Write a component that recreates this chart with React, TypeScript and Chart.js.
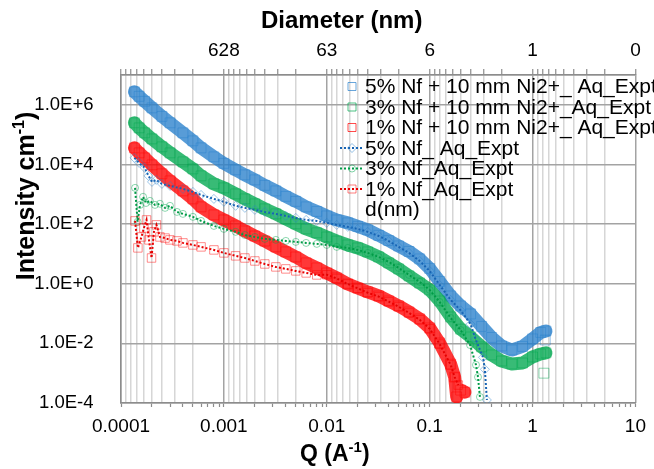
import { useEffect, useRef } from 'react';
import { Chart, registerables } from 'chart.js';

Chart.register(...registerables);

const FONT = '"Liberation Sans", Arial, Helvetica, sans-serif';

// ---------------- data (Q in A^-1, intensity in cm^-1) ----------------
const qNi = [1.35e-4, 1.5e-4, 1.7e-4, 2e-4, 2.5e-4, 3e-4, 4e-4, 5e-4, 6e-4, 8e-4, 1e-3, 1.3e-3, 1.6e-3, 2e-3, 2.5e-3, 3.2e-3, 4e-3, 5e-3, 6.3e-3, 8e-3, 0.01, 0.0125, 0.016, 0.02, 0.025, 0.032, 0.04, 0.05, 0.063, 0.08, 0.1, 0.125, 0.16, 0.2, 0.25, 0.32, 0.4, 0.5, 0.63, 0.8, 1.0, 1.2, 1.35];

const iBlueNi = [2.73e6, 1.93e6, 1.31e6, 7.9e5, 4.1e5, 2.49e5, 1.15e5, 6.2e4, 3.6e4, 1.8e4, 1.09e4, 6.6e3, 4.48e3, 3.04e3, 1.99e3, 1.3e3, 8.5e2, 5.8e2, 3.78e2, 2.67e2, 1.88e2, 1.38e2, 1.1e2, 84, 64, 42, 28, 18.5, 12.1, 6.8, 3.26, 1.19, 0.39, 0.18, 0.097, 0.037, 0.0158, 0.0082, 0.006, 0.0079, 0.0141, 0.0232, 0.026];
const qBlueNiTail = [1.33];
const iBlueNiTail = [0.013];

const iGreenNi = [2.49e5, 1.69e5, 1.15e5, 7.2e4, 3.9e4, 2.45e4, 1.22e4, 7.1e3, 4.14e3, 2.23e3, 1.64e3, 1.03e3, 7.0e2, 4.76e2, 3.24e2, 2.2e2, 1.49e2, 1.02e2, 69, 51, 37, 27, 20, 15.9, 11.7, 7.9, 5.0, 3.14, 1.83, 1.06, 0.62, 0.265, 0.077, 0.03, 0.0164, 0.0076, 0.0041, 0.00256, 0.00204, 0.0022, 0.0035, 0.0044, 0.0048];
const qGreenNiTail = [1.29];
const iGreenNiTail = [0.001];

const qRedNi = [1.35e-4, 1.5e-4, 1.7e-4, 2e-4, 2.5e-4, 3e-4, 4e-4, 5e-4, 6e-4, 8e-4, 1e-3, 1.3e-3, 1.6e-3, 2e-3, 2.5e-3, 3.2e-3, 4e-3, 5e-3, 6.3e-3, 8e-3, 0.01, 0.0125, 0.016, 0.02, 0.025, 0.032, 0.04, 0.05, 0.063, 0.08, 0.1, 0.125, 0.16, 0.175, 0.183, 0.2, 0.22];
const iRedNi = [3.6e4, 2.45e4, 1.66e4, 9.7e3, 4.84e3, 2.82e3, 1.3e3, 7.0e2, 3.78e2, 2.04e2, 1.38e2, 87, 59, 40, 27, 17.2, 11.7, 7.9, 5.0, 3.39, 2.3, 1.57, 0.98, 0.72, 0.53, 0.39, 0.265, 0.18, 0.113, 0.066, 0.033, 0.0103, 0.002, 7.4e-4, 1.6e-4, 2.7e-4, 2.3e-4];

const qBlueAq = [1.35e-4, 1.5e-4, 1.7e-4, 1.85e-4, 2e-4, 2.2e-4, 2.5e-4, 3e-4, 4e-4, 5e-4, 6e-4, 8e-4, 1e-3, 1.3e-3, 1.6e-3, 2e-3, 2.5e-3, 3.2e-3, 4e-3, 5e-3, 6.3e-3, 8e-3, 0.01, 0.0125, 0.016, 0.02, 0.025, 0.032, 0.04, 0.05, 0.063, 0.08, 0.1, 0.125, 0.16, 0.2, 0.25, 0.28, 0.33, 0.344, 0.36];
const iBlueAq = [1.66e4, 1.13e4, 7.7e3, 4.14e3, 2.6e3, 3.04e3, 2.23e3, 1.91e3, 1.52e3, 1.2e3, 9.5e2, 7.0e2, 5.6e2, 4.1e2, 3.5e2, 3.0e2, 2.56e2, 2.2e2, 1.88e2, 1.61e2, 1.38e2, 1.28e2, 1.1e2, 94, 81, 69, 55, 40, 27, 17.2, 10.8, 5.8, 2.7, 0.91, 0.286, 0.128, 0.044, 0.0137, 0.0034, 0.00135, 1.26e-4];

const qGreenAq = [1.37e-4, 1.45e-4, 1.53e-4, 1.64e-4, 1.75e-4, 1.91e-4, 2.14e-4, 2.39e-4, 2.68e-4, 2.99e-4, 3.5e-4, 4e-4, 5e-4, 6e-4, 8e-4, 1e-3, 1.3e-3, 1.6e-3, 2e-3, 2.5e-3, 3.2e-3, 4e-3, 5e-3, 6.3e-3, 8e-3, 0.01, 0.0125, 0.016, 0.02, 0.025, 0.032, 0.04, 0.05, 0.063, 0.08, 0.1, 0.125, 0.16, 0.2, 0.247, 0.282, 0.295, 0.308];
const iGreenAq = [1.64e3, 1.19e2, 4.4e2, 8.2e2, 5.1e2, 6.0e2, 4.4e2, 4.8e2, 3.5e2, 4.1e2, 2.56e2, 2.2e2, 1.75e2, 1.28e2, 87, 69, 55, 43, 37, 32, 29.5, 27.3, 25.3, 23.4, 21.7, 20, 17.2, 15.9, 13.6, 10.8, 7.9, 5.4, 3.4, 1.97, 1.15, 0.62, 0.245, 0.071, 0.028, 0.0088, 0.0019, 7.4e-4, 1.6e-4];

const qRedAq = [1.37e-4, 1.46e-4, 1.58e-4, 1.67e-4, 1.77e-4, 1.87e-4, 1.98e-4, 2.09e-4, 2.21e-4, 2.39e-4, 2.68e-4, 2.99e-4, 3.5e-4, 4e-4, 5e-4, 6e-4, 8e-4, 1e-3, 1.3e-3, 1.6e-3, 2e-3, 2.5e-3, 3.2e-3, 4e-3, 5e-3, 6.3e-3, 8e-3, 0.01, 0.0125, 0.016, 0.02, 0.025, 0.032, 0.04, 0.05, 0.063, 0.08, 0.1, 0.125, 0.16, 0.175, 0.19];
const iRedAq = [128, 15.9, 37, 74, 138, 29.5, 7.3, 55, 94, 37, 34, 29.5, 27.3, 23.4, 20, 17.2, 13.6, 10.8, 8.6, 7.3, 5.8, 4.6, 3.66, 3.14, 2.69, 2.3, 1.97, 2.0, 1.5, 0.98, 0.7, 0.5, 0.37, 0.25, 0.17, 0.105, 0.062, 0.031, 0.0095, 0.0019, 7.4e-4, 4.0e-4];

const seriesLabels = [
  '5% Nf + 10 mm Ni2+_ Aq_Expt',
  '3% Nf + 10 mm Ni2+_Aq_Expt',
  '1% Nf + 10 mm Ni2+_ Aq_Expt',
  '5% Nf_ Aq_Expt',
  '3% Nf_Aq_Expt',
  '1% Nf_Aq_Expt',
  'd(nm)',
];

const yTickValues = [1e-4, 1e-2, 1, 1e2, 1e4, 1e6, 1e7];
const qDecades = [1e-4, 1e-3, 1e-2, 1e-1, 1, 10];
const qTickLabels = ['0.0001', '0.001', '0.01', '0.1', '1', '10'];
const diameterTickLabels = ['', '628', '63', '6', '1', '0'];

// ---------------- styling ----------------
const BLUE = '41,128,204';
const GREEN = '0,168,80';
const RED = '255,0,0';
const BLUE_DOT = '#1763b3';
const GREEN_DOT = '#009a46';
const RED_DOT = '#e60000';

const toXY = (q: number[], v: number[]) => q.map((x, k) => ({ x, y: v[k] }));

const decadeIndex = (v: number) => {
  const e = Math.log10(v);
  const r = Math.round(e);
  return Math.abs(e - r) < 1e-6 ? r + 4 : -1;
};

const fmtExp = (v: number) => {
  const e = Math.round(Math.log10(v));
  return `1.0E${e >= 0 ? '+' : '-'}${Math.abs(e)}`;
};

function niDataset(label: string, rgb: string, q: number[], v: number[], order: number, band: boolean) {
  return {
    label,
    data: toXY(q, v),
    showLine: band,
    borderColor: `rgba(${rgb},0.78)`,
    borderWidth: 13,
    borderCapStyle: 'round',
    borderJoinStyle: 'round',
    pointStyle: 'rect',
    pointRadius: 7,
    pointBorderWidth: 1,
    pointBorderColor: `rgba(${rgb},0.45)`,
    pointBackgroundColor: 'rgba(0,0,0,0)',
    order,
  };
}

function aqDataset(label: string, rgb: string, dot: string, style: string, radius: number, q: number[], v: number[], order: number) {
  return {
    label,
    data: toXY(q, v),
    showLine: true,
    borderColor: dot,
    borderWidth: 2,
    borderDash: [2, 2],
    pointStyle: style,
    pointRadius: radius,
    pointBorderWidth: 1,
    pointBorderColor: `rgba(${rgb},0.45)`,
    pointBackgroundColor: 'rgba(0,0,0,0)',
    order,
  };
}

type Part = { t: string; size: number; dy: number };

function drawParts(ctx: CanvasRenderingContext2D, parts: Part[], x: number, y: number) {
  let cx = x;
  for (const p of parts) {
    ctx.font = `bold ${p.size}px ${FONT}`;
    ctx.fillText(p.t, cx, y + p.dy);
    cx += ctx.measureText(p.t).width;
  }
}

function partsWidth(ctx: CanvasRenderingContext2D, parts: Part[]) {
  let w = 0;
  for (const p of parts) {
    ctx.font = `bold ${p.size}px ${FONT}`;
    w += ctx.measureText(p.t).width;
  }
  return w;
}

function drawMarker(ctx: CanvasRenderingContext2D, kind: string, x: number, y: number, color: string) {
  ctx.save();
  ctx.strokeStyle = color;
  ctx.lineWidth = 1;
  ctx.setLineDash([]);
  ctx.beginPath();
  if (kind === 'rect') {
    ctx.rect(x - 4, y - 4, 8, 8);
  } else if (kind === 'rectRot') {
    ctx.moveTo(x - 4.5, y);
    ctx.lineTo(x, y - 4.5);
    ctx.lineTo(x + 4.5, y);
    ctx.lineTo(x, y + 4.5);
    ctx.closePath();
  } else if (kind === 'circle') {
    ctx.arc(x, y, 3.5, 0, Math.PI * 2);
  }
  ctx.stroke();
  ctx.restore();
}

const decorPlugin = {
  id: 'decor',
  afterDraw(chart: any) {
    const ctx: CanvasRenderingContext2D = chart.ctx;
    const area = chart.chartArea;
    ctx.save();
    ctx.fillStyle = '#000';
    ctx.textBaseline = 'alphabetic';
    ctx.textAlign = 'left';

    // top axis title
    drawParts(ctx, [{ t: 'Diameter (nm)', size: 24, dy: 0 }], 261, 28);

    // bottom axis title
    drawParts(
      ctx,
      [
        { t: 'Q (A', size: 23, dy: 0 },
        { t: '-1', size: 15, dy: -9 },
        { t: ')', size: 23, dy: 0 },
      ],
      300,
      461
    );

    // left axis title (rotated)
    const yParts: Part[] = [
      { t: 'Intensity cm', size: 25, dy: 0 },
      { t: '-1', size: 16, dy: -10 },
      { t: ')', size: 25, dy: 0 },
    ];
    const w = partsWidth(ctx, yParts);
    ctx.save();
    ctx.translate(34, 196 + w / 2);
    ctx.rotate(-Math.PI / 2);
    drawParts(ctx, yParts, 0, 0);
    ctx.restore();

    // legend
    const lx = area.left + 244;
    const mx = area.left + 231;
    const y0 = area.top + 11.5;
    const dy = 20.5;
    const legendStyles = [
      { kind: 'ni', rgb: BLUE, marker: 'rect', dot: '' },
      { kind: 'ni', rgb: GREEN, marker: 'rect', dot: '' },
      { kind: 'ni', rgb: RED, marker: 'rect', dot: '' },
      { kind: 'aq', rgb: BLUE, marker: 'rectRot', dot: BLUE_DOT },
      { kind: 'aq', rgb: GREEN, marker: 'circle', dot: GREEN_DOT },
      { kind: 'aq', rgb: RED, marker: 'rect', dot: RED_DOT },
      { kind: 'none', rgb: '', marker: '', dot: '' },
    ];
    seriesLabels.forEach((label, k) => {
      const y = y0 + k * dy;
      const st = legendStyles[k];
      if (st.kind === 'ni') {
        drawMarker(ctx, 'rect', mx, y, `rgba(${st.rgb},0.7)`);
      } else if (st.kind === 'aq') {
        ctx.save();
        ctx.strokeStyle = st.dot;
        ctx.lineWidth = 2;
        ctx.setLineDash([2, 2]);
        ctx.beginPath();
        ctx.moveTo(mx - 12, y);
        ctx.lineTo(mx + 11, y);
        ctx.stroke();
        ctx.restore();
        drawMarker(ctx, st.marker, mx, y, `rgba(${st.rgb},0.5)`);
      }
      ctx.font = `21px ${FONT}`;
      ctx.textBaseline = 'middle';
      ctx.fillStyle = '#000';
      ctx.fillText(label, lx, y + 1);
    });
    ctx.restore();
  },
};

export default function App() {
  const ref = useRef<HTMLCanvasElement>(null);

  useEffect(() => {
    if (!ref.current) return;
    const datasets: any[] = [
      niDataset(seriesLabels[0], BLUE, qNi, iBlueNi, 9, true),
      niDataset(seriesLabels[0] + ' (end)', BLUE, qBlueNiTail, iBlueNiTail, 8, false),
      niDataset(seriesLabels[1], GREEN, qNi, iGreenNi, 7, true),
      niDataset(seriesLabels[1] + ' (end)', GREEN, qGreenNiTail, iGreenNiTail, 6, false),
      niDataset(seriesLabels[2], RED, qRedNi, iRedNi, 5, true),
      aqDataset(seriesLabels[3], BLUE, BLUE_DOT, 'rectRot', 4.5, qBlueAq, iBlueAq, 3),
      aqDataset(seriesLabels[4], GREEN, GREEN_DOT, 'circle', 3.5, qGreenAq, iGreenAq, 2),
      aqDataset(seriesLabels[5], RED, RED_DOT, 'rect', 6, qRedAq, iRedAq, 1),
    ];

    const tickFont = { family: FONT, size: 19 };

    const chart = new Chart(ref.current, {
      type: 'scatter',
      data: { datasets },
      plugins: [decorPlugin],
      options: {
        animation: false,
        responsive: false,
        devicePixelRatio: 1,
        layout: { padding: { left: 0, right: 18, top: 0, bottom: 0 } },
        plugins: { legend: { display: false }, tooltip: { enabled: false } },
        scales: {
          x: {
            type: 'logarithmic',
            position: 'bottom',
            min: 1e-4,
            max: 10,
            afterBuildTicks: (s: any) => {
              const t: { value: number }[] = [];
              for (let k = 0; k < qDecades.length - 1; k++) {
                for (let m = 1; m <= 9; m++) t.push({ value: m * qDecades[k] });
              }
              t.push({ value: qDecades[qDecades.length - 1] });
              s.ticks = t;
            },
            afterFit: (s: any) => {
              s.height = 66;
            },
            ticks: {
              autoSkip: false,
              maxRotation: 0,
              minRotation: 0,
              padding: 8,
              color: '#000',
              font: tickFont,
              callback: (v: any) => {
                const i = decadeIndex(Number(v));
                return i >= 0 ? qTickLabels[i] : '';
              },
            },
            grid: {
              drawOnChartArea: false,
              drawTicks: true,
              tickLength: 4,
              tickColor: '#8c8c8c',
              tickWidth: 1.2,
            },
            border: { color: '#8c8c8c', width: 1.5 },
          },
          x2: {
            type: 'logarithmic',
            position: 'top',
            min: 1e-4,
            max: 10,
            afterBuildTicks: (s: any) => {
              const t: { value: number }[] = [];
              for (let k = 0; k < qDecades.length - 1; k++) {
                t.push({ value: qDecades[k] });
                for (let m = 9; m >= 2; m--) t.push({ value: qDecades[k + 1] / m });
              }
              t.push({ value: qDecades[qDecades.length - 1] });
              s.ticks = t;
            },
            afterFit: (s: any) => {
              s.height = 75;
            },
            ticks: {
              autoSkip: false,
              maxRotation: 0,
              minRotation: 0,
              padding: 7,
              color: '#000',
              font: tickFont,
              callback: (v: any) => {
                const i = decadeIndex(Number(v));
                return i >= 0 ? diameterTickLabels[i] : '';
              },
            },
            grid: {
              drawOnChartArea: true,
              drawTicks: true,
              tickLength: 6,
              tickColor: '#8c8c8c',
              tickWidth: 1.2,
              color: (c: any) => (c.tick && decadeIndex(c.tick.value) >= 0 ? '#a3a3a3' : '#d6d6d6'),
              lineWidth: 1.5,
            },
            border: { color: '#8c8c8c', width: 1.5 },
          },
          y: {
            type: 'logarithmic',
            position: 'left',
            min: 1e-4,
            max: 1e7,
            afterBuildTicks: (s: any) => {
              s.ticks = yTickValues.map((value) => ({ value }));
            },
            afterFit: (s: any) => {
              s.width = 121;
            },
            ticks: {
              autoSkip: false,
              padding: 27.5,
              color: '#000',
              font: { family: FONT, size: 18.5 },
              callback: (v: any) => (Number(v) >= 1e7 ? '' : fmtExp(Number(v))),
            },
            grid: { color: '#a3a3a3', lineWidth: 1.5, drawTicks: false },
            border: { color: '#8c8c8c', width: 1.5 },
          },
        },
      } as any,
    } as any);

    return () => chart.destroy();
  }, []);

  return (
    <div style={{ position: 'absolute', left: 0, top: 0, width: 654, height: 469, background: '#fff' }}>
      <canvas ref={ref} width={654} height={469} style={{ display: 'block', width: 654, height: 469 }} />
    </div>
  );
}
